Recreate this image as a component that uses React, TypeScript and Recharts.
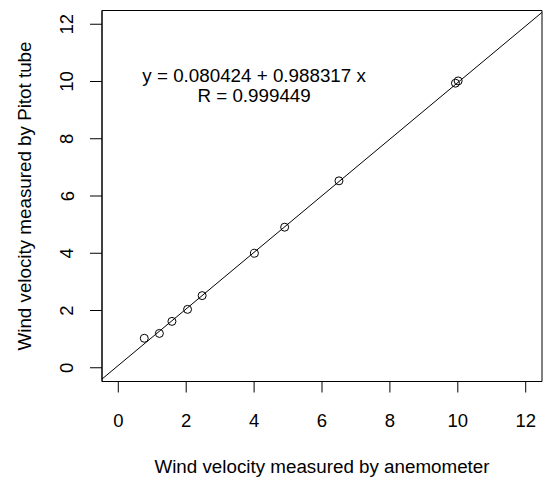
import React from 'react';
import { ScatterChart, Scatter, XAxis, YAxis, ReferenceLine, ReferenceDot, ReferenceArea } from 'recharts';

const anemometer = [0.765, 1.21, 1.58, 2.04, 2.47, 4.01, 4.9, 6.5, 9.93, 10.01];
const pitot = [1.03, 1.2, 1.62, 2.04, 2.52, 4.0, 4.91, 6.53, 9.94, 10.02];
const ticks = [0, 2, 4, 6, 8, 10, 12];
const intercept = 0.080424;
const slope = 0.988317;
const corr = 0.999449;

const domain: [number, number] = [-0.48, 12.48];
const font = '"Liberation Sans", Arial, sans-serif';

const data = anemometer.map((x, i) => ({ x, y: pitot[i] }));
const fitAt = (x: number) => intercept + slope * x;

function Ring(props: any) {
  return <circle cx={props.cx} cy={props.cy} r={4} fill="none" stroke="#000" strokeWidth={1} />;
}

function YTick(props: any) {
  const { x, y, payload } = props;
  return (
    <text x={x} y={y} transform={`rotate(-90 ${x} ${y})`} textAnchor="middle" fontSize={18.5} fontFamily={font} fill="#000">
      {payload.value}
    </text>
  );
}

function EqLabel(props: any) {
  const { viewBox } = props;
  const cx = viewBox.x + (viewBox.width || 0) / 2;
  const cy = viewBox.y + (viewBox.height || 0) / 2;
  return (
    <text textAnchor="middle" fontSize={18.8} fontFamily={font} fill="#000">
      <tspan x={cx} y={cy + 6}>{`y = ${intercept} + ${slope} x`}</tspan>
      <tspan x={cx} y={cy + 26}>{`R = ${corr}`}</tspan>
    </text>
  );
}

export default function App() {
  return (
    <div style={{ position: 'absolute', left: 0, top: 0, background: '#fff' }}>
      <ScatterChart width={543} height={479} margin={{ top: 10.5, right: 1, left: 42, bottom: 37.5 }}>
        <XAxis
          type="number"
          dataKey="x"
          domain={domain}
          ticks={ticks}
          allowDataOverflow
          stroke="#000"
          tickSize={11}
          tickMargin={21}
          height={60}
          tick={{ fill: '#000', fontSize: 18.5, fontFamily: font }}
          label={{
            content: () => (
              <text x={322} y={473} textAnchor="middle" fontSize={18.8} fontFamily={font} fill="#000">
                Wind velocity measured by anemometer
              </text>
            ),
          }}
        />
        <YAxis
          type="number"
          dataKey="y"
          domain={domain}
          ticks={ticks}
          allowDataOverflow
          stroke="#000"
          tickSize={12}
          tickMargin={16.5}
          width={60}
          tick={<YTick />}
          label={{
            content: () => (
              <text x={31} y={196} transform="rotate(-90 31 196)" textAnchor="middle" fontSize={18.8} fontFamily={font} fill="#000">
                Wind velocity measured by Pitot tube
              </text>
            ),
          }}
        />
        <ReferenceArea
          x1={domain[0]}
          x2={domain[1]}
          y1={domain[0]}
          y2={domain[1]}
          fill="none"
          fillOpacity={0}
          stroke="#000"
          strokeWidth={1}
          ifOverflow="visible"
        />
        <ReferenceLine
          segment={[
            { x: domain[0], y: fitAt(domain[0]) },
            { x: domain[1], y: fitAt(domain[1]) },
          ]}
          stroke="#000"
          strokeWidth={1}
          ifOverflow="hidden"
        />
        <ReferenceDot x={4} y={10.2} r={0} fill="none" stroke="none" label={{ content: EqLabel }} />
        <Scatter data={data} shape={<Ring />} isAnimationActive={false} />
      </ScatterChart>
    </div>
  );
}
